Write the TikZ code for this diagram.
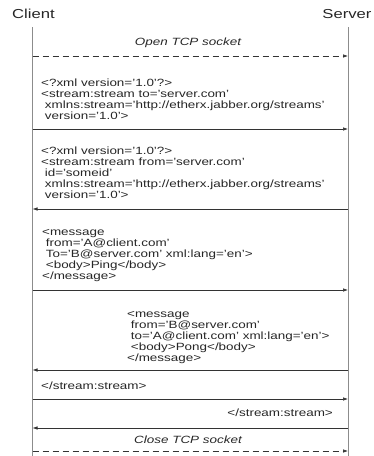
\documentclass[tikz,border=0pt]{standalone}
\usepackage{fontspec}
\setmainfont{Liberation Sans}[FakeStretch=1.28]
\usetikzlibrary{arrows.meta}

\begin{document}
\begin{tikzpicture}[x=1pt, y=-1pt, >={Latex[length=5pt,width=3.5pt]},
    life/.style={draw=black!45, line width=.7pt},
    msg/.style={->, draw=black!80, line width=.6pt},
    txt/.style={inner sep=0pt, align=left, anchor=north west, text=black!85,
      font=\fontsize{10.5}{11}\selectfont, execute at begin node=\strut},
    party/.style={inner sep=0pt, text=black!85, font=\fontsize{13}{15}\selectfont}]
  \useasboundingbox (0,0) rectangle (373,456);
  % the two parties and their lifelines
  \node [party] (client) at (33.5,14) {Client};
  \node [party] (server) at (347,14) {Server};
  \coordinate (ctop) at (32.5,27);
  \coordinate (cbot) at (32.5,456);
  \coordinate (stop) at (348,27);
  \coordinate (sbot) at (348,456);
  \draw [life] (ctop)--(cbot);
  \draw [life] (stop)--(sbot);
  % one row per message
  \foreach \n/\y in {1/56,2/129,3/209,4/290,5/370,6/399,7/428,8/451}{
    \coordinate (c\n) at (32.5,\y);
    \coordinate (s\n) at (348,\y);
  }
  \node [txt, anchor=north, font=\fontsize{10.5}{11}\selectfont\itshape] (open) at (188,38) {Open TCP socket};
  \draw [msg, dashed, dash pattern=on 6pt off 4pt] (c1)--(s1);
  \node [txt] (hello) at (41,79) {<?xml version='1.0'?>\\
    <stream:stream to='server.com'\\
    \ xmlns:stream='http://etherx.jabber.org/streams'\\
    \ version='1.0'>};
  \draw [msg] (c2)--(s2);
  \node [txt] (reply) at (41,147) {<?xml version='1.0'?>\\
    <stream:stream from='server.com'\\
    \ id='someid'\\
    \ xmlns:stream='http://etherx.jabber.org/streams'\\
    \ version='1.0'>};
  \draw [msg] (s3)--(c3);
  \node [txt] (ping) at (42,229) {<message\\
    \ from='A@client.com'\\
    \ To='B@server.com' xml:lang='en'>\\
    \ <body>Ping</body>\\
    </message>};
  \draw [msg] (c4)--(s4);
  \node [txt] (pong) at (127,311) {<message\\
    \ from='B@server.com'\\
    \ to='A@client.com' xml:lang='en'>\\
    \ <body>Pong</body>\\
    </message>};
  \draw [msg] (s5)--(c5);
  \node [txt] (cend) at (41,382) {</stream:stream>};
  \draw [msg] (c6)--(s6);
  \node [txt, anchor=north east] (send) at (333,409) {</stream:stream>};
  \draw [msg] (s7)--(c7);
  \node [txt, anchor=north, font=\fontsize{10.5}{11}\selectfont\itshape] (close) at (188,436) {Close TCP socket};
  \draw [msg, dashed, dash pattern=on 6pt off 4pt] (c8)--(s8);
\end{tikzpicture}
\end{document}
